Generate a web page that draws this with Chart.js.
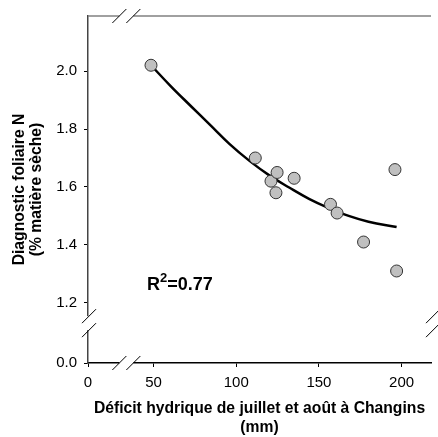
<!DOCTYPE html>
<html lang="fr">
<head>
<meta charset="UTF-8">
<title>Diagnostic foliaire N</title>
<script src="https://cdn.jsdelivr.net/npm/chart.js@4.4.0/dist/chart.umd.min.js"></script>
<style>
  html, body { margin: 0; padding: 0; background: #fff; }
</style>
</head>
<body>
<canvas id="chart" width="438" height="437"></canvas>
<script>
// points
var deficit   = [48, 111.5, 121, 124, 124.7, 135, 157, 161, 177, 196, 197];
var nFoliaire = [2.02, 1.70, 1.62, 1.58, 1.65, 1.63, 1.54, 1.51, 1.41, 1.66, 1.31];
// regression curve
var fitX = [48, 60, 72, 84, 96, 108, 120, 132, 144, 156, 168, 180, 197];
var fitY = [2.02, 1.95, 1.882, 1.815, 1.748, 1.69, 1.64, 1.598, 1.559, 1.527, 1.50, 1.48, 1.462];
var xTicks = [0, 50, 100, 150, 200];
var yTicks = [0, 1.2, 1.4, 1.6, 1.8, 2.0];
var xTickLabels = ['0', '50', '100', '150', '200'];
var yTickLabels = ['0.0', '1.2', '1.4', '1.6', '1.8', '2.0'];
var r2Value = '0.77';
var yTitle = ['Diagnostic foliaire N', '(% matière sèche)'];
var xTitle = ['Déficit hydrique de juillet et août à Changins', '(mm)'];

var FONT = '"Liberation Sans", Arial, sans-serif';

// both axes are broken: 0 is squeezed next to the first tick after the break
var X_ZERO = 10.3, X_BREAK = 50;
var Y_ZERO = 0.9925, Y_BREAK = 1.2;
function bx(v) { return v >= X_BREAK ? v : X_ZERO + v * (X_BREAK - X_ZERO) / X_BREAK; }
function by(v) { return v >= Y_BREAK ? v : Y_ZERO + v * (Y_BREAK - Y_ZERO) / Y_BREAK; }

var points = deficit.map(function(d, i) { return {x: bx(d), y: by(nFoliaire[i])}; });
var curve = fitX.map(function(d, i) { return {x: bx(d), y: by(fitY[i])}; });

function slash(ctx, cx, cy) {
  ctx.beginPath();
  ctx.moveTo(cx - 7, cy + 7);
  ctx.lineTo(cx + 7, cy - 7);
  ctx.stroke();
}

var breaksPlugin = {
  id: 'breaks',
  afterDraw: function(chart) {
    var ctx = chart.ctx, a = chart.chartArea;
    var xs = chart.scales.x, ys = chart.scales.y;
    ctx.save();
    // top frame
    ctx.strokeStyle = '#808080';
    ctx.lineWidth = 1.5;
    ctx.beginPath();
    ctx.moveTo(a.left, a.top);
    ctx.lineTo(a.right, a.top);
    ctx.stroke();

    var bxp = xs.getPixelForValue(33.5);
    var byp = ys.getPixelForValue(1.13);
    // gaps in the axis lines
    ctx.fillStyle = '#fff';
    ctx.fillRect(bxp - 7, a.bottom - 2, 14, 4);
    ctx.fillRect(bxp - 7, a.top - 2, 14, 4);
    ctx.fillRect(a.left - 2, byp - 7, 4, 14);

    ctx.strokeStyle = '#000';
    ctx.lineWidth = 1;
    [-7, 7].forEach(function(d) {
      slash(ctx, bxp + d, a.bottom);
      slash(ctx, bxp + d, a.top);
      slash(ctx, a.left + 1, byp + d);
      slash(ctx, a.right + 2, byp + d);
    });

    // y axis title, two rotated lines
    ctx.fillStyle = '#000';
    ctx.font = 'bold 15.7px ' + FONT;
    ctx.textAlign = 'center';
    ctx.textBaseline = 'middle';
    var cy = (a.top + a.bottom) / 2;
    [20, 36.5].forEach(function(x, i) {
      ctx.save();
      ctx.translate(x, cy);
      ctx.rotate(-Math.PI / 2);
      ctx.fillText(yTitle[i], 0, 0);
      ctx.restore();
    });

    // R² label
    var px = xs.getPixelForValue(46), py = ys.getPixelForValue(1.246);
    ctx.textBaseline = 'alphabetic';
    ctx.textAlign = 'left';
    ctx.font = 'bold 18px ' + FONT;
    ctx.fillText('R', px, py);
    var w = ctx.measureText('R').width;
    ctx.font = 'bold 13px ' + FONT;
    ctx.fillText('2', px + w, py - 7.5);
    w += ctx.measureText('2').width;
    ctx.font = 'bold 18px ' + FONT;
    ctx.fillText('=' + r2Value, px + w, py);
    ctx.restore();
  }
};

var ctx = document.getElementById('chart').getContext('2d');
window.chart = new Chart(ctx, {
  type: 'scatter',
  data: {
    datasets: [{
      data: points,
      pointRadius: 6,
      pointBackgroundColor: '#c0c0c0',
      pointBorderColor: '#333',
      pointBorderWidth: 1
    }, {
      data: curve,
      showLine: true,
      pointRadius: 0,
      borderColor: '#000',
      borderWidth: 2.5,
      tension: 0.4
    }]
  },
  options: {
    responsive: false,
    animation: false,
    layout: { padding: { top: 14, right: 0, left: 0, bottom: 0 } },
    plugins: { legend: { display: false }, tooltip: { enabled: false } },
    scales: {
      x: {
        type: 'linear',
        min: X_ZERO,
        max: 217.8,
        afterBuildTicks: function(s) { s.ticks = xTicks.map(function(v) { return {value: bx(v)}; }); },
        afterFit: function(s) { s.height = 74; },
        ticks: {
          autoSkip: false, maxRotation: 0, padding: 7, color: '#000',
          font: { family: FONT, size: 15 },
          callback: function(v, i) { return xTickLabels[i]; }
        },
        grid: { drawOnChartArea: false, tickLength: 4, color: '#000' },
        border: { color: '#000', width: 1.5 },
        title: {
          display: true,
          text: xTitle,
          color: '#000',
          font: { family: FONT, size: 15.7, weight: 'bold', lineHeight: 1.21 },
          padding: { top: 0, bottom: 0 }
        }
      },
      y: {
        type: 'linear',
        min: Y_ZERO,
        max: 2.19,
        afterBuildTicks: function(s) { s.ticks = yTicks.map(function(v) { return {value: by(v)}; }); },
        afterFit: function(s) { s.width = 88; },
        ticks: {
          autoSkip: false, padding: 7, color: '#000',
          font: { family: FONT, size: 15 },
          callback: function(v, i) { return yTickLabels[i]; }
        },
        grid: { drawOnChartArea: false, tickLength: 4, color: '#000' },
        border: { color: '#444', width: 1.5 }
      }
    }
  },
  plugins: [breaksPlugin]
});
</script>
</body>
</html>
